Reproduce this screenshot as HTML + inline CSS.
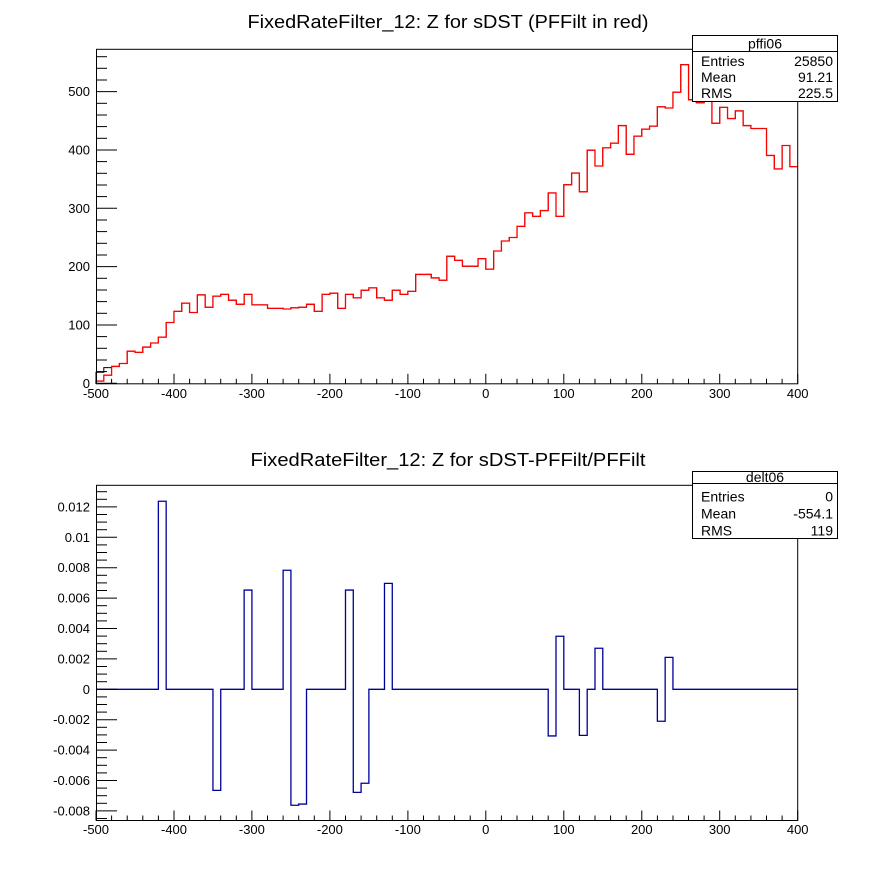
<!DOCTYPE html>
<html><head><meta charset="utf-8"><style>
html,body{margin:0;padding:0;background:#fff;}
svg{display:block;font-family:"Liberation Sans",Arial,sans-serif;}
</style></head><body>
<svg id="s" width="896" height="872" viewBox="0 0 896 872" xmlns="http://www.w3.org/2000/svg">
<rect width="896" height="872" fill="#fff"/>
<text x="448" y="28" font-size="18" text-anchor="middle" textLength="401" lengthAdjust="spacingAndGlyphs">FixedRateFilter_12: Z for sDST (PFFilt in red)</text>
<text x="448" y="466" font-size="18" text-anchor="middle" textLength="395" lengthAdjust="spacingAndGlyphs">FixedRateFilter_12: Z for sDST-PFFilt/PFFilt</text>
<g id="g"></g>
<!-- stat box top -->
<rect x="692.5" y="35.5" width="145" height="66" fill="#fff" stroke="#000" stroke-width="1"/>
<line x1="692.5" y1="51.5" x2="837.5" y2="51.5" stroke="#000"/>
<text x="765" y="48.5" font-size="14" text-anchor="middle">pffi06</text>
<text x="701" y="66" font-size="14">Entries</text><text x="833" y="66" font-size="14" text-anchor="end">25850</text>
<text x="701" y="82" font-size="14">Mean</text><text x="833" y="82" font-size="14" text-anchor="end">91.21</text>
<text x="701" y="98" font-size="14">RMS</text><text x="833" y="98" font-size="14" text-anchor="end">225.5</text>
<!-- stat box bottom -->
<rect x="692.5" y="471.5" width="145" height="67" fill="#fff" stroke="#000" stroke-width="1"/>
<line x1="692.5" y1="483.5" x2="837.5" y2="483.5" stroke="#000"/>
<text x="765" y="482" font-size="14" text-anchor="middle">delt06</text>
<text x="701" y="501.5" font-size="14">Entries</text><text x="833" y="501.5" font-size="14" text-anchor="end">0</text>
<text x="701" y="518.5" font-size="14">Mean</text><text x="833" y="518.5" font-size="14" text-anchor="end">-554.1</text>
<text x="701" y="535.5" font-size="14">RMS</text><text x="833" y="535.5" font-size="14" text-anchor="end">119</text>
</svg>
<script>
(function(){
var g=document.getElementById('g');var NS='http://www.w3.org/2000/svg';
function el(t,a,txt){var e=document.createElementNS(NS,t);for(var k in a)e.setAttribute(k,a[k]);if(txt!==undefined)e.textContent=txt;g.appendChild(e);return e;}
var X0=96,X1=797.7,bw=(X1-X0)/90;
function px(v){return X0+(v+500)/900*(X1-X0);}
var top=[5,15,30,35,56,54,63,70,80,105,124,138,122,152,131,150,153,143,136,153,135,135,129,129,128,130,131,136,124,153,155,129,153,147,160,164,147,143,160,153,158,187,187,181,177,218,211,201,201,214,196,227,244,250,269,292,286,296,326,286,340,360,328,399,372,403,411,441,392,423,435,440,473,471,498,545,485,480,486,445,472,453,466,441,436,436,390,367,407,371];
function ty(v){return 384-0.586*v;}
function hpath(vals,yf){var d='M'+X0+' '+yf(0);for(var i=0;i<vals.length;i++){var y=yf(vals[i]).toFixed(2);d+=' L'+(X0+i*bw).toFixed(2)+' '+y+' L'+(X0+(i+1)*bw).toFixed(2)+' '+y;}return d;}
var blk=top.slice();blk[0]=20;blk[1]=28;
el('path',{d:hpath(blk,ty),fill:'none',stroke:'#000','stroke-width':1});
el('path',{d:hpath(top,ty),fill:'none',stroke:'#ff0000','stroke-width':1.3});
var b=[];for(var i=0;i<90;i++)b.push(0);
function set(x,v){b[(x+500)/10]=v;}
set(-420,0.01237);set(-350,-0.00665);set(-310,0.00653);set(-260,0.00783);set(-250,-0.00763);set(-240,-0.00755);
set(-180,0.00653);set(-170,-0.00678);set(-160,-0.00618);set(-130,0.00697);
set(80,-0.00307);set(90,0.00349);set(120,-0.00303);set(140,0.0027);set(220,-0.0021);set(230,0.0021);
function by(v){return 689.3-v*15200;}
var d='M'+X0+' '+by(0);for(var i=0;i<90;i++){var y=by(b[i]).toFixed(2);d+=' L'+(X0+i*bw).toFixed(2)+' '+y+' L'+(X0+(i+1)*bw).toFixed(2)+' '+y;}
el('path',{d:d,fill:'none',stroke:'#00009a','stroke-width':1.3});
function frame(t,bt){el('rect',{x:X0+0.5,y:t+0.5,width:X1-X0-0.5,height:bt-t,fill:'none',stroke:'#000','stroke-width':1});}
frame(48.8,383.3);frame(484.8,820);
function xaxis(yb,ly){for(var v=-500;v<=400;v+=20){var x=px(v).toFixed(1);var maj=(v%100===0);el('line',{x1:x,y1:yb,x2:x,y2:yb-(maj?10:5),stroke:'#000'});if(maj)el('text',{x:x,y:ly,'font-size':13,'text-anchor':'middle'},String(v));}}
xaxis(383.8,398);xaxis(820.5,834);
for(var v=0;v<=570;v+=20){var y=(383.3-v*0.5833).toFixed(1);var maj=(v%100===0);el('line',{x1:X0,y1:y,x2:X0+(maj?21:11),y2:y,stroke:'#000'});if(maj)el('text',{x:90,y:(+y+4.5),'font-size':13,'text-anchor':'end'},String(v));}
for(var k=-17;k<=26;k++){var v=k*0.0005;var y=by(v);if(y<485||y>820)continue;y=y.toFixed(1);var maj=(k%4===0);el('line',{x1:X0,y1:y,x2:X0+(maj?21:11),y2:y,stroke:'#000'});if(maj){var s=(k===0)?'0':(v<0?'-':'')+Math.abs(v).toFixed(3).replace(/0+$/,'');el('text',{x:90,y:(+y+4.5),'font-size':13,'text-anchor':'end'},s);}}
})();
</script>
</body></html>
